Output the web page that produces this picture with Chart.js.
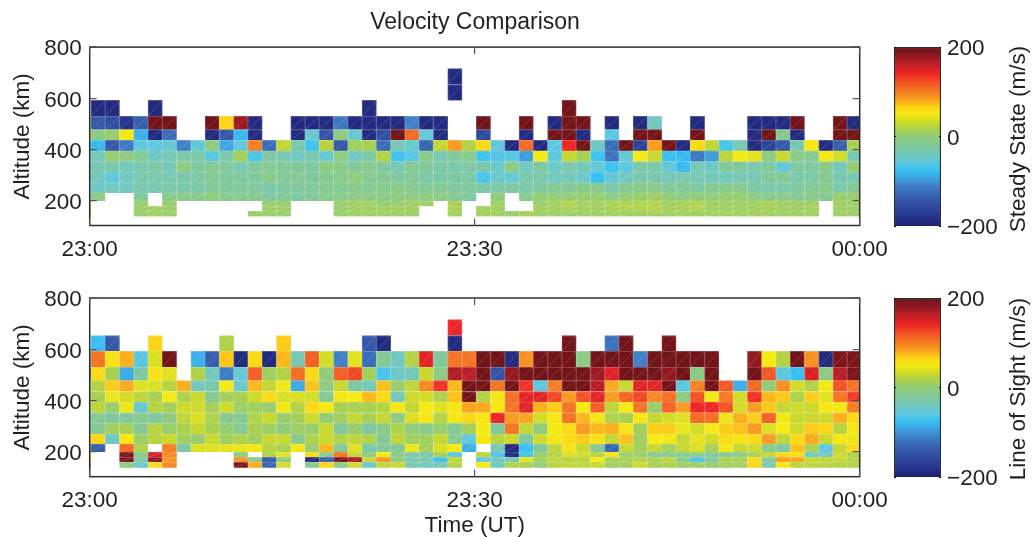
<!DOCTYPE html>
<html>
<head>
<meta charset="utf-8">
<title>Velocity Comparison</title>
<script src="https://cdn.jsdelivr.net/npm/chart.js@4"></script>
<style>
    html, body { margin: 0; padding: 0; background: #fff; }
    body { position: relative; width: 1034px; height: 537px; overflow: hidden; }
    canvas { position: absolute; }
    .cbar-title {
        position: absolute; font: 22.5px "Liberation Sans", sans-serif; color: #231f20; white-space: nowrap;
        transform: translate(-50%, -50%) rotate(-90deg);
    }
</style>
</head>
<body>
<canvas id="steadyChart" style="left:0;top:0" width="950" height="262"></canvas>
<canvas id="losChart" style="left:0;top:262px" width="950" height="277"></canvas>
<canvas id="steadyBar" style="left:885px;top:0" width="149" height="262"></canvas>
<canvas id="losBar" style="left:885px;top:251px" width="149" height="262"></canvas>
<div class="cbar-title" style="left:1018px;top:139px">Steady State (m/s)</div>
<div class="cbar-title" style="left:1018px;top:389px">Line of Sight (m/s)</div>
<script>
const __ = null;

// --- axes ---
const altitudeEdges = [139, 160, 179, 200, 231, 270, 312, 353, 395, 436, 478, 530, 592, 654, 716];
const altitudeTicks = [200, 400, 600, 800];
const timeTickLabels = { 0: '23:00', 30: '23:30', 60: '00:00' };

// minutes after 23:00, centre of each integration (the first is cut by the axis)
const columnMinutes = [-0.456, 0.656, 1.768, 2.880, 3.992, 5.104, 6.216, 7.328, 8.440, 9.552, 10.664, 11.776, 12.888, 14.000,
    15.112, 16.224, 17.336, 18.448, 19.560, 20.672, 21.784, 22.896, 24.008, 25.120, 26.232, 27.344, 28.456, 29.568, 30.680,
    31.792, 32.904, 34.016, 35.128, 36.240, 37.352, 38.464, 39.576, 40.688, 41.800, 42.912, 44.024, 45.136, 46.248, 47.360,
    48.472, 49.584, 50.696, 51.808, 52.920, 54.032, 55.144, 56.256, 57.368, 58.480, 59.592];

// --- steady state velocities (m/s), one list per altitude row ---
const steady654 = [__,
    __,__,__,__,__,__,__,__,__,__,__,__,__,__,__,__,__,__,
    __,__,__,__,__,__,__,-190,__,__,__,__,__,__,__,__,__,__,
    __,__,__,__,__,__,__,__,__,__,__,__,__,__,__,__,__,__];
const steady592 = [__,
    __,__,__,__,__,__,__,__,__,__,__,__,__,__,__,__,__,__,
    __,__,__,__,__,__,__,-190,__,__,__,__,__,__,__,__,__,__,
    __,__,__,__,__,__,__,__,__,__,__,__,__,__,__,__,__,__];
const steady530 = [__,
    -190,-190,__,__,-190,__,__,__,__,__,__,__,__,__,__,__,__,__,
    __,-190,__,__,__,__,__,__,__,__,__,__,__,__,__,195,__,__,
    __,__,__,__,__,__,__,__,__,__,__,__,__,__,__,__,__,__];
const steady478 = [30,
    -140,-150,-180,-135,195,195,__,__,195,65,175,-190,__,__,-190,-190,-190,-115,
    -190,-190,-190,-190,-110,-190,-190,__,__,195,__,__,195,__,-190,195,195,__,
    -190,__,-190,-40,__,__,-190,__,__,__,-190,-190,-190,195,__,__,195,-190];
const steady436 = [65,
    -10,5,48,-85,-190,-125,__,__,-190,-140,-80,-190,__,__,-190,-50,-145,-5,
    -50,-190,-150,195,110,-55,-190,__,__,-155,__,__,-190,__,195,195,-190,__,
    -60,__,195,195,__,__,195,__,__,__,-190,195,-15,-190,__,__,195,195];
const steady395 = [-78,
    -78,-140,-115,-58,-58,-52,-110,-55,-2,-90,-55,100,-125,28,-30,-72,22,-140,
    10,15,-125,-35,-50,-130,28,85,20,62,-55,-190,110,-190,-60,140,195,-45,
    -125,195,-165,85,195,-190,60,28,-68,-35,-190,-165,-140,-30,52,-190,-135,15];
const steady353 = [-35,
    -40,5,-5,-15,-45,-35,-28,-28,-62,-30,12,-68,-25,-35,-42,-30,-52,-2,
    -42,-28,20,-72,-62,-10,-35,-22,-10,-72,-65,-62,-95,50,-60,28,15,-72,
    -120,-52,50,30,-75,-78,-115,-95,25,50,42,-5,30,-8,-15,52,35,-35];
const steady312 = [-30,
    -32,-32,-40,-32,-25,-35,-5,-22,-15,-20,-35,-18,-15,-18,-18,-25,-3,-10,
    -20,-12,-22,-35,-15,-20,-28,-28,-25,-28,-48,-8,-42,-25,-45,-30,-38,-52,
    -72,-60,-28,-30,-55,-78,-38,-45,-18,-22,-30,-22,-55,-25,-25,-12,-40,2];
const steady270 = [-45,
    -40,-58,-42,-32,-30,-35,-30,-25,-15,-22,-22,-20,-12,-20,-15,-20,-15,-12,
    -2,-15,-15,-22,-18,-28,-28,-25,-28,-68,-48,-52,-32,-30,-42,-38,-45,-75,
    -55,-42,-32,-30,-38,-32,-35,-38,-40,-35,-35,-18,-15,-28,-28,-15,-32,-35];
const steady231 = [-60,
    -45,-40,-42,-30,-35,-28,-28,-30,-20,-20,-22,-20,-30,-22,-22,-20,-15,-15,
    -12,-15,-12,-8,-15,-15,-15,-20,-22,-28,-28,-22,-28,-20,-15,-18,-10,-12,
    -30,-15,-10,-12,-20,-18,-25,-15,-12,-10,-25,-30,-30,-22,-15,-12,-30,-15];
const steady200 = [-30,
    -5,__,__,-22,__,-12,-10,-12,-2,-15,-12,-15,-22,-18,-25,-18,-12,-10,
    -5,-5,-5,-5,-5,-5,-5,-18,-22,__,0,__,-12,2,2,2,4,4,
    -5,2,5,8,0,-5,0,0,3,3,-5,-10,-8,-15,-10,-15,5,5];
const steady179 = [10,
    __,__,__,5,__,5,__,__,__,__,__,__,5,5,__,__,__,5,
    10,10,0,5,8,8,__,15,__,__,10,__,__,5,12,18,10,10,
    18,18,18,20,10,15,18,10,10,10,10,15,8,8,10,__,8,8];
const steady160 = [15,
    __,__,__,5,12,5,__,__,__,__,__,__,8,8,__,__,__,5,
    10,10,10,10,10,__,__,15,__,10,10,__,__,10,10,15,10,10,
    15,18,18,20,10,15,18,10,10,10,10,15,8,8,12,__,8,8];
const steady139 = [15,
    __,__,__,5,10,5,__,__,__,__,__,5,5,5,__,__,__,5,
    8,8,8,8,8,__,__,10,__,12,8,5,15,8,8,8,8,8,
    10,10,10,12,10,10,10,10,10,10,10,10,8,8,10,__,8,8];

// --- line of sight velocities (m/s) ---
const los654 = [__,
    __,__,__,__,__,__,__,__,__,__,__,__,__,__,__,__,__,__,
    __,__,__,__,__,__,__,140,__,__,__,__,__,__,__,__,__,__,
    __,__,__,__,__,__,__,__,__,__,__,__,__,__,__,__,__,__];
const los592 = [__,
    -75,-140,__,__,65,__,__,__,__,18,__,__,__,68,__,__,__,__,
    __,-140,-190,__,__,__,__,-190,__,__,__,__,__,__,__,195,__,__,
    -120,195,__,__,195,__,__,__,__,__,__,__,__,__,__,__,__,__];
const los530 = [-70,
    105,55,78,-62,38,195,__,-85,-135,70,-190,62,-190,75,-35,115,35,-110,
    42,-125,-15,-42,20,145,-20,105,105,195,195,-190,90,195,195,195,-5,195,
    195,195,-110,195,195,195,195,195,__,__,178,50,20,195,90,-190,190,190];
const los478 = [-130,
    62,15,-88,-25,55,40,__,18,-40,-112,-52,115,10,20,108,62,0,115,
    125,10,-68,-45,-38,30,-5,168,165,195,-145,178,195,195,195,195,195,175,
    145,195,195,195,178,195,-8,195,__,__,195,118,-60,-75,150,-5,165,190];
const los436 = [-45,
    20,68,80,40,38,22,78,-40,-30,50,-50,75,28,48,-88,72,-5,30,
    -25,-40,72,5,25,95,135,75,195,195,105,195,135,-60,100,195,195,165,
    80,30,145,145,195,-62,98,195,118,-85,110,0,92,35,20,50,120,105];
const los395 = [-5,
    15,45,35,25,15,50,18,30,-15,12,15,32,62,38,38,35,-15,52,
    50,75,62,-40,32,35,18,72,195,20,52,108,145,145,125,85,120,145,
    85,112,125,95,108,-5,120,48,102,35,135,75,70,18,68,42,105,130];
const los353 = [0,
    25,5,45,-50,22,12,32,32,12,32,8,10,5,48,20,62,52,15,
    15,15,22,52,28,50,40,52,82,80,52,105,145,78,68,105,50,115,
    25,50,105,5,112,85,140,140,120,35,85,70,28,32,30,52,52,100];
const los312 = [-45,
    -15,-22,-22,-12,-25,-5,25,38,18,-15,-15,18,30,5,12,32,2,10,
    28,15,28,-5,38,52,20,52,65,52,140,85,82,35,52,105,75,55,
    18,15,52,28,35,40,110,108,45,78,68,115,52,30,30,32,78,62];
const los270 = [-50,
    -18,10,15,-15,22,5,15,28,15,3,-15,15,8,-2,8,5,30,-20,
    5,-25,-8,18,0,-12,5,-15,12,50,-20,105,28,-2,50,60,85,75,
    78,52,12,68,68,45,35,50,68,72,85,38,50,32,68,65,22,52];
const los231 = [40,
    65,-45,52,8,22,30,10,5,30,10,18,10,28,28,-10,18,30,18,
    25,18,-18,25,10,10,28,-12,-55,52,22,30,-25,32,52,60,68,58,
    28,72,10,50,48,28,42,32,60,55,62,85,25,62,80,30,52,45];
const los200 = [-5,
    -135,__,110,18,__,100,-28,38,40,42,45,52,22,15,52,5,75,-15,
    40,-28,-18,-18,45,12,38,50,-85,__,-35,-190,-75,-20,25,55,30,-15,
    -130,30,12,28,10,28,38,15,52,28,32,-10,-25,72,18,-60,28,62];
const los179 = [55,
    __,__,190,-10,150,95,__,__,__,__,-5,__,20,42,__,60,-10,105,
    28,-5,50,-10,-25,-30,15,-60,__,25,-65,-190,-70,5,20,38,35,22,
    55,5,5,-15,-12,-10,-5,-15,-15,-10,15,28,62,55,-45,-40,32,18];
const los160 = [60,
    __,__,190,-20,180,90,__,__,__,__,90,-8,-140,-2,__,-190,-135,190,
    170,28,88,-8,-35,-30,-75,25,__,-55,-40,-35,42,12,25,22,22,50,
    15,15,18,15,25,-10,-68,-25,18,15,60,-25,85,82,28,28,28,22];
const los139 = [90,
    __,__,-5,-50,60,95,__,__,__,__,190,80,-130,35,__,-15,65,-8,
    32,-50,25,30,-30,-42,-35,20,__,52,-45,18,15,0,22,28,25,30,
    8,12,32,12,18,8,8,5,10,10,65,-30,52,25,25,20,20,18];

// bottom row first, same order as altitudeEdges
const steadyRows = [steady139, steady160, steady179, steady200, steady231, steady270, steady312, steady353,
    steady395, steady436, steady478, steady530, steady592, steady654];
const losRows = [los139, los160, los179, los200, los231, los270, los312, los353,
    los395, los436, los478, los530, los592, los654];

// --- colour scale ---
const colourValues = [-200, -180, -140, -110, -85, -75, -60, -40, -20, 0, 15, 30, 50, 65, 85, 110, 140, 165, 180, 200];
const colourStops = ['#1f2170', '#26358f', '#3558a8', '#3f80c8', '#3cb0ea', '#38c0f2', '#5cc8e0', '#72c8bc', '#80c89a',
    '#90cc78', '#a8d050', '#c8d82c', '#f5ea12', '#fcd514', '#f99b1f', '#f46a24', '#ee2526', '#b81e26', '#8f1820', '#6a1216'];

const INK = '#231f20';
const FONT = { family: '"Liberation Sans", sans-serif', size: 22.5 };

function hexToRgb(hex) {
    return [1, 3, 5].map(i => parseInt(hex.substr(i, 2), 16));
}

function colourFor(v, whiten = 0) {
    let i = 0;
    while (i < colourValues.length - 2 && v > colourValues[i + 1]) i++;
    const t = Math.min(1, Math.max(0, (v - colourValues[i]) / (colourValues[i + 1] - colourValues[i])));
    const a = hexToRgb(colourStops[i]), b = hexToRgb(colourStops[i + 1]);
    const rgb = a.map((c, k) => {
        const mixed = c + (b[k] - c) * t;
        return Math.round(mixed + (255 - mixed) * whiten);
    });
    return `rgb(${rgb.join(',')})`;
}

// light diagonal left by the triangulated surface in each cell, and the axes box on top
const cellDiagonals = {
    id: 'cellDiagonals',
    afterDatasetsDraw(chart) {
        const { ctx, chartArea } = chart;
        ctx.save();
        ctx.beginPath();
        ctx.rect(chartArea.left, chartArea.top, chartArea.width, chartArea.height);
        ctx.clip();
        ctx.strokeStyle = 'rgba(255,255,255,0.22)';
        ctx.lineWidth = 0.7;
        chart.data.datasets.forEach((ds, i) => {
            for (const bar of chart.getDatasetMeta(i).data) {
                ctx.beginPath();
                ctx.moveTo(bar.x - bar.width / 2, bar.base);
                ctx.lineTo(bar.x + bar.width / 2, bar.y);
                ctx.stroke();
            }
        });
        ctx.restore();
        ctx.save();
        ctx.strokeStyle = '#2e2e2e';
        ctx.lineWidth = 1.5;
        ctx.strokeRect(chartArea.left, chartArea.top, chartArea.width, chartArea.height);
        ctx.restore();
    }
};

function rowDatasets(rows) {
    return rows.map((row, r) => {
        const cells = [];
        row.forEach((v, c) => {
            if (v !== null) cells.push({ x: columnMinutes[c], y: [altitudeEdges[r], altitudeEdges[r + 1]] });
        });
        const vals = row.filter(v => v !== null);
        return {
            data: cells,
            grouped: false,
            barPercentage: 1,
            categoryPercentage: 1,
            borderWidth: 1,
            backgroundColor: vals.map(v => colourFor(v)),
            borderColor: vals.map(v => colourFor(v, 0.2))
        };
    });
}

function heatChart(canvasId, rows, { title, xTitle, topPad, xHeight }) {
    const noLine = { display: false };
    const tickMarks = { drawOnChartArea: false, drawTicks: true, tickLength: -7, color: '#555', lineWidth: 1.2, z: 1, offset: false };
    const xBase = { type: 'linear', min: 0, max: 60, offset: false, border: noLine, grid: tickMarks };
    const yBase = { type: 'linear', min: 104, max: 800, beginAtZero: false, border: noLine, grid: tickMarks };
    const yTicks = { stepSize: 200, includeBounds: false, autoSkip: false };
    return new Chart(document.getElementById(canvasId), {
        type: 'bar',
        data: { datasets: rowDatasets(rows) },
        plugins: [cellDiagonals],
        options: {
            responsive: false,
            animation: false,
            layout: { padding: { top: topPad } },
            plugins: {
                legend: { display: false },
                tooltip: { enabled: false },
                title: { display: !!title, text: title, color: INK, font: { ...FONT, size: 23, weight: 'normal' }, padding: { top: 8.5, bottom: 11 } }
            },
            scales: {
                x: {
                    ...xBase, position: 'bottom',
                    ticks: {
                        stepSize: 30, autoSkip: false, maxRotation: 0, padding: 18, color: INK, font: FONT,
                        callback: v => timeTickLabels[v] ?? ''
                    },
                    title: { display: !!xTitle, text: xTitle, color: INK, font: FONT, padding: { top: 0, bottom: 0 } },
                    afterFit: s => { s.height = xHeight; }
                },
                xTop: {
                    ...xBase, position: 'top',
                    ticks: { stepSize: 30, display: false },
                    afterFit: s => { s.height = 0; }
                },
                y: {
                    ...yBase, position: 'left',
                    ticks: {
                        ...yTicks, padding: 15, labelOffset: 2, color: INK, font: FONT,
                        callback: v => altitudeTicks.includes(v) ? String(v) : ''
                    },
                    title: { display: true, text: 'Altitude (km)', color: INK, font: FONT, padding: { top: 9, bottom: 0 } },
                    afterFit: s => { s.width = 89.7; }
                },
                yRight: {
                    ...yBase, position: 'right',
                    ticks: { ...yTicks, display: false },
                    afterFit: s => { s.width = 90.3; }
                }
            }
        }
    });
}

function colourBar(canvasId) {
    const marks = { drawOnChartArea: false, drawTicks: true, tickLength: -2, color: '#111', z: 1 };
    const yBase = { type: 'linear', min: -200, max: 200, border: { display: false }, grid: marks };
    return new Chart(document.getElementById(canvasId), {
        type: 'bar',
        data: {
            labels: [''],
            datasets: [{
                data: [[-200, 200]],
                barPercentage: 1,
                categoryPercentage: 1,
                borderWidth: 1.5,
                borderColor: '#2e2e2e',
                backgroundColor(ctx) {
                    const area = ctx.chart.chartArea;
                    if (!area) return colourStops[0];
                    const g = ctx.chart.ctx.createLinearGradient(0, area.bottom, 0, area.top);
                    colourValues.forEach((v, i) => g.addColorStop((v + 200) / 400, colourStops[i]));
                    return g;
                }
            }]
        },
        options: {
            responsive: false,
            animation: false,
            layout: { padding: { top: 47, bottom: 36 } },
            plugins: { legend: { display: false }, tooltip: { enabled: false } },
            scales: {
                x: { display: false },
                yLeft: {
                    ...yBase, position: 'left',
                    ticks: { stepSize: 200, display: false },
                    afterFit: s => { s.width = 9; }
                },
                y: {
                    ...yBase, position: 'right',
                    ticks: {
                        stepSize: 200, autoSkip: false, padding: 8, labelOffset: 2, color: INK, font: FONT,
                        callback: v => String(v).replace('-', '\u2212')
                    },
                    afterFit: s => { s.width = 93; }
                }
            }
        }
    });
}

heatChart('steadyChart', steadyRows, { title: 'Velocity Comparison', xTitle: '', topPad: 0, xHeight: 36.5 });
heatChart('losChart', losRows, { title: '', xTitle: 'Time (UT)', topPad: 36, xHeight: 62.3 });
colourBar('steadyBar');
colourBar('losBar');
</script>
</body>
</html>
